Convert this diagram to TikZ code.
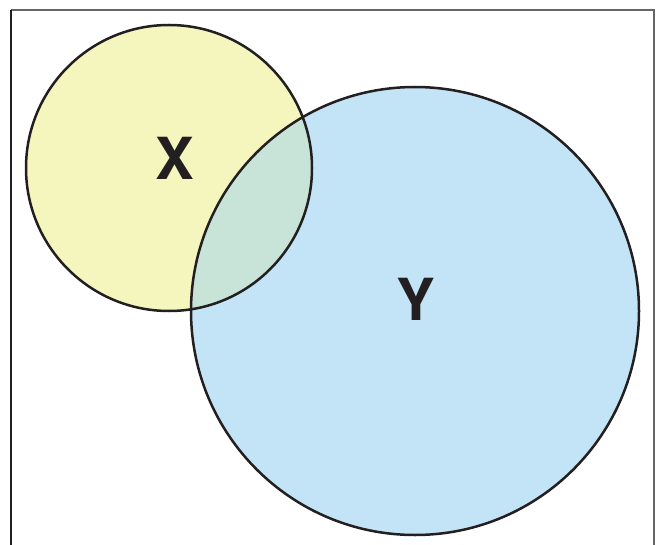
\documentclass[tikz,border=0pt]{standalone}
\usepackage{xcolor}
\usepackage{fontspec}
\setmainfont{TeX Gyre Heros}

\definecolor{setyellow}{HTML}{F5F5BE}
\definecolor{setblue}{HTML}{C2E4F6}
\definecolor{setmix}{HTML}{C8E4D8}
\definecolor{setline}{HTML}{231F20}

\begin{document}
\begin{tikzpicture}[
    x=1pt,
    y=-1pt,
    outline/.style={
        draw=setline,
        line width=2.5pt
    },
    frameline/.style={
        draw=gray!80!black,
        line width=1.4pt
    },
    setlabel/.style={
        font=\fontsize{58}{58}\selectfont\bfseries,
        text=setline,
        inner sep=0pt
    }
]
    \useasboundingbox (0,0) rectangle (660,545);

    % --- Frame ---
    \coordinate (fbl) at (11,545);
    \coordinate (ftl) at (11,10);
    \coordinate (ftr) at (654,10);
    \coordinate (fbr) at (654,545);
    \draw [frameline] (ftl) -- (ftr) -- (fbr);
    \draw [draw=setline, line width=1.6pt] (ftl) -- (fbl);

    % --- Sets ---
    \coordinate (cx) at (169,168);
    \coordinate (cy) at (415,311);
    \fill [setyellow] (cx) circle (143);
    \fill [setblue] (cy) circle (224);

    % Overlap of X and Y
    \begin{scope}
        \clip (cx) circle (143);
        \fill [setmix] (cy) circle (224);
    \end{scope}

    \draw [outline] (cx) circle (143);
    \draw [outline] (cy) circle (224);

    % --- Labels ---
    \node [setlabel] (xlab) at (175,158) {X};
    \node [setlabel] (ylab) at (416,299) {Y};

\end{tikzpicture}
\end{document}
